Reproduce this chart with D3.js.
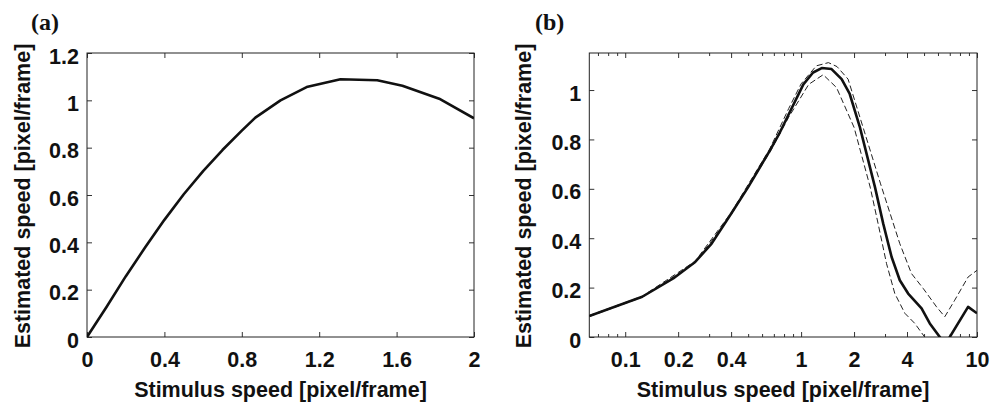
<!DOCTYPE html>
<html>
<head>
<meta charset="utf-8">
<script src="https://cdn.jsdelivr.net/npm/d3@7"></script>
<style>
  html, body { margin: 0; padding: 0; background: #fff; }
  svg { display: block; }
  text { font-family: "Liberation Sans", Arial, Helvetica, sans-serif; font-weight: bold; fill: #111; }
  .panel-label { font-family: "Liberation Serif", "Times New Roman", serif; font-weight: bold; }
</style>
</head>
<body>
<svg id="chart" width="991" height="408"></svg>
<script>
// ---------- Data ----------
// Panel (a): linear speed axis
const aSpeed = [0, 0.1, 0.2, 0.3, 0.4, 0.5, 0.6, 0.7, 0.8, 0.87, 1.0, 1.135, 1.31, 1.5, 1.63, 1.82, 2.0];
const aEstimate = [0, 0.126, 0.256, 0.378, 0.495, 0.603, 0.701, 0.79, 0.872, 0.927, 1.0, 1.056, 1.089, 1.085, 1.062, 1.007, 0.924];
const aXTicks = [0, 0.4, 0.8, 1.2, 1.6, 2];
const aYTicks = [0, 0.2, 0.4, 0.6, 0.8, 1, 1.2];

// Panel (b): log speed axis, mean and +/- spread (dashed)
const bMeanSpeed = [0.0625, 0.125, 0.1875, 0.25, 0.31, 0.40, 0.50, 0.664, 0.758, 1.03, 1.17, 1.31, 1.49, 1.70, 1.89, 2.16, 2.63, 2.93, 3.27, 3.64, 4.06, 4.84, 5.39, 6.6, 8.9, 10];
const bMean = [0.085, 0.163, 0.237, 0.304, 0.378, 0.499, 0.607, 0.755, 0.829, 1.023, 1.071, 1.089, 1.085, 1.044, 0.984, 0.849, 0.607, 0.459, 0.324, 0.230, 0.176, 0.116, 0.055, -0.03, 0.122, 0.096];
const bUpperSpeed = [0.0625, 0.125, 0.25, 0.4, 0.664, 0.85, 1.0, 1.22, 1.43, 1.60, 1.85, 2.25, 2.83, 3.64, 4.24, 4.94, 5.89, 6.56, 7.47, 8.9, 10];
const bUpper = [0.087, 0.165, 0.307, 0.503, 0.762, 0.925, 1.025, 1.098, 1.111, 1.095, 1.044, 0.849, 0.62, 0.378, 0.257, 0.197, 0.122, 0.082, 0.149, 0.243, 0.27];
const bLowerSpeed = [0.0625, 0.125, 0.25, 0.4, 0.664, 0.85, 1.105, 1.335, 1.59, 2.0, 2.47, 2.74, 3.06, 3.41, 3.89, 4.43, 5.04, 5.6, 7.0, 10];
const bLower = [0.083, 0.161, 0.301, 0.495, 0.748, 0.89, 1.023, 1.062, 1.01, 0.849, 0.607, 0.459, 0.297, 0.176, 0.096, 0.055, 0.0, -0.06, -0.1, -0.05];
const bXTicks = [0.1, 0.2, 0.4, 1, 2, 4, 10];
const bXMinor = [0.07, 0.08, 0.09, 0.3, 0.5, 0.6, 0.7, 0.8, 0.9, 3, 5, 6, 7, 8, 9];
const bYTicks = [0, 0.2, 0.4, 0.6, 0.8, 1];

const xTitle = "Stimulus speed [pixel/frame]";
const yTitle = "Estimated speed [pixel/frame]";

// ---------- Drawing ----------
const svg = d3.select("#chart");
const FS = 21.5;
const topY = 53, bottomY = 337;

function panel(opts) {
  const { left, right, x, y, xTicks, xMinor, yTicks, label, labelX, yTitleX, id } = opts;
  const g = svg.append("g");

  g.append("clipPath").attr("id", id).append("rect")
    .attr("x", left).attr("y", topY).attr("width", right - left).attr("height", bottomY - topY);

  const fmt = d => String(d);

  const xb = g.append("g").attr("transform", `translate(0,${bottomY})`)
    .call(d3.axisBottom(x).tickValues(xTicks).tickFormat(fmt).tickSizeInner(-5).tickSizeOuter(0).tickPadding(14.7));
  g.append("g").attr("transform", `translate(0,${topY})`)
    .call(d3.axisTop(x).tickValues(xTicks).tickFormat("").tickSizeInner(-5).tickSizeOuter(0));
  if (xMinor) {
    g.append("g").attr("transform", `translate(0,${bottomY})`)
      .call(d3.axisBottom(x).tickValues(xMinor).tickFormat("").tickSizeInner(-3).tickSizeOuter(0));
    g.append("g").attr("transform", `translate(0,${topY})`)
      .call(d3.axisTop(x).tickValues(xMinor).tickFormat("").tickSizeInner(-3).tickSizeOuter(0));
  }
  const yl = g.append("g").attr("transform", `translate(${left},0)`)
    .call(d3.axisLeft(y).tickValues(yTicks).tickFormat(fmt).tickSizeInner(-5).tickSizeOuter(0).tickPadding(8));
  g.append("g").attr("transform", `translate(${right},0)`)
    .call(d3.axisRight(y).tickValues(yTicks).tickFormat("").tickSizeInner(-5).tickSizeOuter(0));

  g.selectAll(".domain").remove();
  g.selectAll(".tick line").attr("stroke", "#333").attr("stroke-width", 1);
  g.selectAll(".tick text").attr("font-size", FS).attr("font-family", null).attr("fill", "#111");
  yl.selectAll(".tick text").attr("dy", "0.47em");
  xb.selectAll(".tick text").attr("dy", "0.71em");

  g.append("rect").attr("x", left).attr("y", topY).attr("width", right - left).attr("height", bottomY - topY)
    .attr("fill", "none").attr("stroke", "#222").attr("stroke-width", 1);

  g.append("text").attr("x", (left + right) / 2).attr("y", 397).attr("text-anchor", "middle")
    .attr("font-size", FS).text(xTitle);
  g.append("text").attr("transform", `translate(${yTitleX},${(topY + bottomY) / 2 + 1}) rotate(-90)`)
    .attr("text-anchor", "middle").attr("font-size", FS).text(yTitle);
  g.append("text").attr("class", "panel-label").attr("x", labelX).attr("y", 30)
    .attr("font-size", 24).text(label);

  return g.append("g").attr("clip-path", `url(#${id})`);
}

// Panel (a)
const axA = d3.scaleLinear().domain([0, 2]).range([87, 474]);
const ayA = d3.scaleLinear().domain([0, 1.2]).range([bottomY, topY]);
const plotA = panel({ left: 87, right: 474, x: axA, y: ayA, xTicks: aXTicks, yTicks: aYTicks,
  label: "(a)", labelX: 31, yTitleX: 30, id: "clipA" });
const lineA = d3.line().x(d => axA(d[0])).y(d => ayA(d[1]));
plotA.append("path").datum(d3.zip(aSpeed, aEstimate)).attr("d", lineA)
  .attr("fill", "none").attr("stroke", "#111").attr("stroke-width", 2.6).attr("stroke-linejoin", "round");

// Panel (b)
const axB = d3.scaleLog().domain([0.0625, 10]).range([589.3, 977]);
const ayB = d3.scaleLinear().domain([0, 1.15]).range([bottomY, topY]);
const plotB = panel({ left: 589.3, right: 977, x: axB, y: ayB, xTicks: bXTicks, xMinor: bXMinor, yTicks: bYTicks,
  label: "(b)", labelX: 535, yTitleX: 531, id: "clipB" });
const lineB = d3.line().x(d => axB(d[0])).y(d => ayB(d[1]));
plotB.append("path").datum(d3.zip(bUpperSpeed, bUpper)).attr("d", lineB)
  .attr("fill", "none").attr("stroke", "#222").attr("stroke-width", 1).attr("stroke-dasharray", "6,3");
plotB.append("path").datum(d3.zip(bLowerSpeed, bLower)).attr("d", lineB)
  .attr("fill", "none").attr("stroke", "#222").attr("stroke-width", 1).attr("stroke-dasharray", "6,3");
plotB.append("path").datum(d3.zip(bMeanSpeed, bMean)).attr("d", lineB)
  .attr("fill", "none").attr("stroke", "#111").attr("stroke-width", 2.6).attr("stroke-linejoin", "round");
</script>
</body>
</html>
